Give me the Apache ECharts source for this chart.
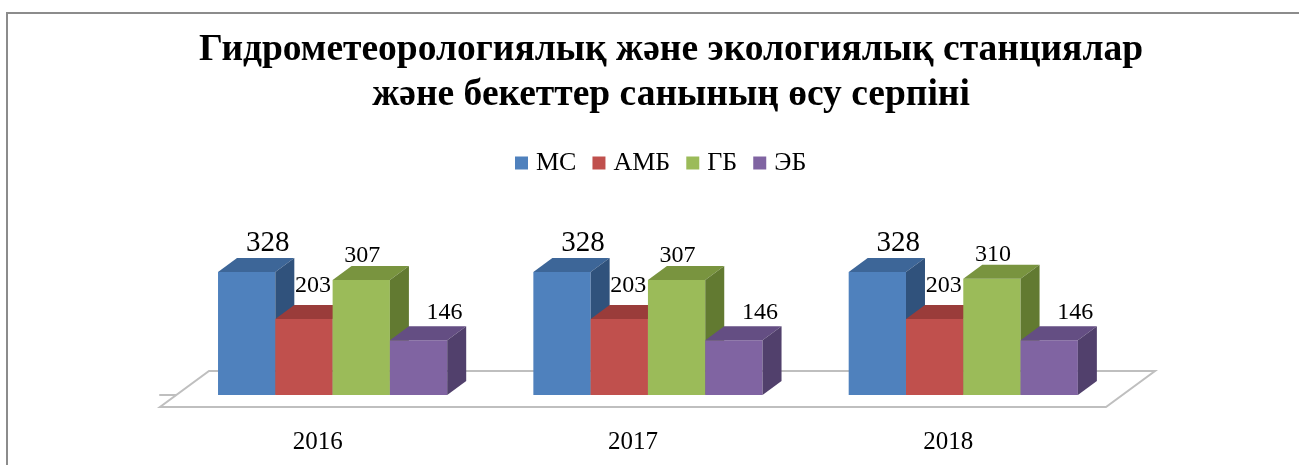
<!DOCTYPE html>
<html>
<head>
<meta charset="utf-8">
<script src="https://cdn.jsdelivr.net/npm/echarts@6/dist/echarts.min.js"></script>
<style>
  html, body { margin: 0; padding: 0; background: #fff; }
  #main { width: 1299px; height: 465px; }
</style>
</head>
<body>
<div id="main"></div>
<script>
// данные диаграммы
const categories = ['2016', '2017', '2018'];
const seriesNames = ['МС', 'АМБ', 'ГБ', 'ЭБ'];
const msValues = [328, 328, 328];
const ambValues = [203, 203, 203];
const gbValues = [307, 307, 310];
const ebValues = [146, 146, 146];
const allValues = [msValues, ambValues, gbValues, ebValues];

// оформление
const faceColors = ['#4F81BD', '#C0504D', '#9BBB59', '#8064A2'];
const topColors = ['#3D6698', '#9A3C3A', '#79943F', '#644E83'];
const sideColors = ['#30527C', '#7F302E', '#627A31', '#51406C'];
const labelShift = [21, 9, 1, 26];   // сдвиг подписи вправо от центра столбца
const labelGap = [5, 11, 2, 5];      // над задним краем верхней грани
const labelSize = [29, 24, 24, 24];

const GROUP_LEFT = 0.184;
const BAR_FRAC = 0.1817;
const DEPTH = [19, -14];       // глубина столбца
const FLOOR = [49, -36];       // глубина "пола"
const AXIS_OFFSET = 12;
const FONT = '"Liberation Serif", "Times New Roman", serif';

var myChart = echarts.init(document.getElementById('main'));

function barRenderer(s) {
  return function (params, api) {
    const idx = api.value(0);
    const v = api.value(1);
    const base = api.coord([idx, 0]);
    const top = api.coord([idx, v]);
    const band = api.size([1, 0])[0];
    const w = band * BAR_FRAC;
    const x0 = base[0] - band / 2 + band * GROUP_LEFT + s * w;
    const y0 = base[1], y1 = top[1];
    const dx = DEPTH[0], dy = DEPTH[1];
    const baseline = y1 + dy - labelGap[s];
    return {
      type: 'group',
      children: [
        { type: 'rect', shape: { x: x0, y: y1, width: w, height: y0 - y1 },
          style: { fill: faceColors[s] } },
        { type: 'polygon',
          shape: { points: [[x0, y1], [x0 + w, y1], [x0 + w + dx, y1 + dy], [x0 + dx, y1 + dy]] },
          style: { fill: topColors[s] } },
        { type: 'polygon',
          shape: { points: [[x0 + w, y1], [x0 + w + dx, y1 + dy], [x0 + w + dx, y0 + dy], [x0 + w, y0]] },
          style: { fill: sideColors[s] } },
        { type: 'text',
          x: x0 + w / 2 + labelShift[s],
          y: baseline - 0.34 * labelSize[s],
          style: { text: String(v), fill: '#000', align: 'center', verticalAlign: 'middle',
            fontSize: labelSize[s], fontFamily: FONT } }
      ]
    };
  };
}

function floorRenderer(params, api) {
  const n = categories.length;
  const band = api.size([1, 0])[0];
  const left = api.coord([0, 0])[0] - band / 2;
  const right = api.coord([n - 1, 0])[0] + band / 2;
  const y = api.coord([0, 0])[1] + AXIS_OFFSET;
  return {
    type: 'polygon',
    shape: { points: [[left, y], [right, y], [right + FLOOR[0], y + FLOOR[1]], [left + FLOOR[0], y + FLOOR[1]]] },
    style: { fill: '#fff', stroke: '#BFBFBF', lineWidth: 2 }
  };
}

const series = [{
  name: 'floor',
  type: 'custom',
  renderItem: floorRenderer,
  data: [[0, 0]],
  silent: true,
  z: 1
}];
seriesNames.forEach(function (name, s) {
  series.push({
    name: name,
    type: 'custom',
    renderItem: barRenderer(s),
    itemStyle: { color: faceColors[s] },
    data: allValues[s].map(function (v, i) { return [i, v]; }),
    z: 2
  });
});

myChart.setOption({
  animation: false,
  title: {
    text: 'Гидрометеорологиялық және экологиялық станциялар\nжәне бекеттер санының өсу серпіні',
    left: 671,
    top: 28,
    padding: 0,
    textAlign: 'center',
    textStyle: {
      fontFamily: FONT,
      fontWeight: 'bold',
      fontSize: 37.5,
      lineHeight: 45,
      color: '#000'
    }
  },
  legend: {
    data: seriesNames,
    left: 515,
    top: 150,
    padding: 0,
    icon: 'rect',
    itemWidth: 13,
    itemHeight: 13,
    itemGap: 16,
    textStyle: { fontFamily: FONT, fontSize: 26, color: '#000', padding: [0, 0, 0, 3] }
  },
  graphic: [{
    type: 'rect',
    shape: { x: 7, y: 13, width: 1310, height: 470 },
    style: { fill: 'none', stroke: '#8C8C8C', lineWidth: 2 },
    silent: true
  }],
  grid: { left: 160, right: 193, top: 245, bottom: 70 },
  xAxis: {
    type: 'category',
    data: categories,
    offset: AXIS_OFFSET,
    axisLine: { lineStyle: { color: '#BFBFBF', width: 2 } },
    axisTick: { length: 7, lineStyle: { color: '#A6A6A6', width: 2 } },
    axisLabel: { fontFamily: FONT, fontSize: 25, color: '#000', margin: 23 }
  },
  yAxis: {
    type: 'value',
    min: 0,
    max: 400,
    show: false
  },
  series: series
});
</script>
</body>
</html>
